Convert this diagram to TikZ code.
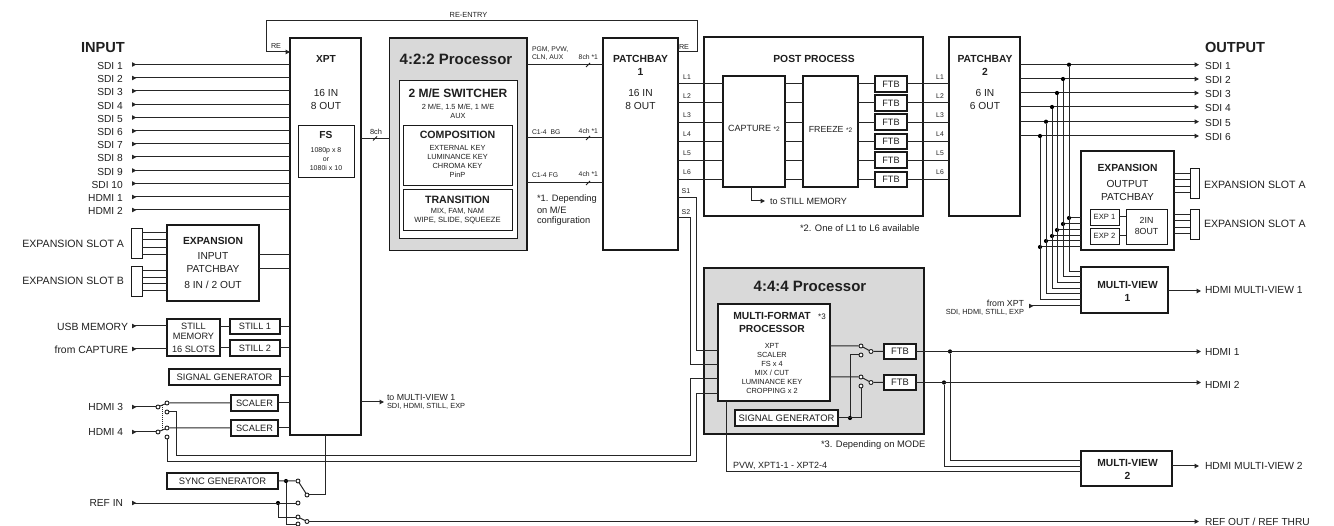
\documentclass[tikz,border=0pt]{standalone}
\usepackage{fontspec}
\setmainfont{Liberation Sans}
\usetikzlibrary{arrows.meta,calc}
\newcommand\fs[1]{\fontsize{#1}{#1}\selectfont}
\newcounter{tn}
\newcommand\T[5]{\stepcounter{tn}\node[anchor=#1,inner sep=0pt,outer sep=0pt,text=black!88,font=\fs{#2}] (t\arabic{tn}) at (#3,{#4+0.36*#2}) {#5};}
\newcommand\B[1]{\textbf{#1}}
\newcommand\bx[7]{\node[rectangle,draw=black!90,fill=white,inner sep=0pt,outer sep=0pt,align=center,text=black!88,minimum width={(#4-#2)*1pt},minimum height={(#5-#3)*1pt},#6] (#1) at ({(#2+#4)/2},{(#3+#5)/2}) {#7};}
\tikzset{
  thickbox/.style={line width=1.8pt},
  midbox/.style={line width=1.2pt},
  thinbox/.style={line width=0.9pt},
  greybox/.style={line width=1.8pt,fill=black!15},
  wire/.style={line width=1pt,draw=black!85},
  outw/.style={wire,-{Triangle[length=4.4pt,width=4.4pt]}},
  inw/.style={wire,{Triangle[reversed,length=4.4pt,width=4.4pt]}-},
  jd/.style={circle,fill=black,inner sep=0pt,minimum size=4.2pt},
  sw/.style={circle,draw=black!88,line width=0.9pt,fill=white,inner sep=0pt,minimum size=4pt},
  hatch/.style={line width=0.9pt,draw=black!88},
  connblock/.style={line width=0.9pt}
}
\begin{document}
\begin{tikzpicture}[x=1pt,y=-1pt]
\useasboundingbox (0,0) rectangle (1334,526);
% ---------- boxes
\bx{xpt}{290}{38}{361}{435}{thickbox}{}
\bx{fsb}{298}{125}{354}{177}{thinbox}{}
\bx{p422}{389.5}{38}{527}{250.5}{greybox}{}
\bx{sw2}{399}{80}{517}{238}{thinbox}{}
\bx{comp}{403}{125}{512}{185}{thinbox}{}
\bx{trans}{403}{189}{512}{230}{thinbox}{}
\bx{pb1}{603}{38}{678}{250}{midbox}{}
\bx{post}{704}{37}{923}{216}{thickbox}{}
\bx{cap}{723}{76}{785}{187}{midbox}{}
\bx{frz}{803}{76}{858}{187}{midbox}{}
\bx{pb2}{949}{37}{1020}{216}{thickbox}{}
\bx{expo}{1081}{151}{1174}{250}{thickbox}{}
\bx{exp1}{1090}{209}{1119}{225}{thinbox}{{\fs{7.6}EXP 1}}
\bx{exp2}{1090}{228}{1119}{244}{thinbox}{{\fs{7.6}EXP 2}}
\bx{twoin}{1126}{209}{1167}{244}{thinbox}{}
\bx{slotO1}{1190}{168}{1199}{198}{connblock}{}
\bx{slotO2}{1190}{209}{1199}{239}{connblock}{}
\bx{mv1}{1081}{267}{1168}{313}{thickbox}{}
\bx{mv2}{1081}{451}{1172}{486}{thickbox}{}
\bx{p444}{704}{268}{924}{434}{greybox}{}
\bx{mfp}{718}{304}{830}{401}{midbox}{}
\bx{sg2}{735}{410}{838}{426}{midbox}{{\fs{9.4}SIGNAL GENERATOR}}
\bx{ftbA}{884}{344}{916}{359}{thickbox}{{\fs{9.4}FTB}}
\bx{ftbB}{884}{375}{916}{390}{thickbox}{{\fs{9.4}FTB}}
\bx{expi}{167}{225}{259}{301}{thickbox}{}
\bx{slotA}{131}{228}{142}{258}{connblock}{}
\bx{slotB}{131}{266}{142}{296}{connblock}{}
\bx{still}{167}{319}{220}{356}{thickbox}{}
\bx{stA}{230}{319}{280}{334}{thickbox}{{\fs{9.2}STILL 1}}
\bx{stB}{230}{340}{280}{356}{thickbox}{{\fs{9.2}STILL 2}}
\bx{sg1}{169}{369}{280}{385}{thickbox}{{\fs{9.4}SIGNAL GENERATOR}}
\bx{sc1}{231}{395}{278}{411}{thickbox}{{\fs{9.2}SCALER}}
\bx{sc2}{231}{420}{278}{436}{thickbox}{{\fs{9.2}SCALER}}
\bx{sync}{167}{473}{278}{489}{thickbox}{{\fs{9.4}SYNC GENERATOR}}
% ---------- input column
\T{base west}{14.6}{81}{47}{\B{INPUT}}
\foreach \y/\t [count=\i] in {64.5/SDI 1,78/SDI 2,91/SDI 3,104.5/SDI 4,117.5/SDI 5,131/SDI 6,144/SDI 7,157/SDI 8,170.5/SDI 9,183.5/SDI 10,197/HDMI 1,210/HDMI 2}{
  \node[anchor=base east,inner sep=0pt,text=black!88,font=\fs{10.2}] (inl\i) at (123,{\y+1+3.67}) {\t};
  \coordinate (ina\i) at (132,\y);
  \draw[inw] (ina\i) -- (xpt.west |- ina\i);
}
% re-entry
\coordinate (reA) at (266,21);
\coordinate (reB) at (697,21);
\draw[outw] (pb1.east |- 0,52) -| (reB) -- (reA) |- (xpt.west |- 0,52);
\T{base}{7.2}{276}{46}{RE}
\T{base}{7.2}{684}{47}{RE}
\T{base}{7.4}{468.5}{15}{RE-ENTRY}
% XPT text
\T{base}{10.2}{326}{59}{\B{XPT}}
\T{base}{10.2}{326}{93}{16 IN}
\T{base}{10.2}{326}{106}{8 OUT}
\T{base}{10.2}{326}{135}{\B{FS}}
\T{base}{7}{326}{150}{1080p x 8}
\T{base}{7}{326}{159}{or}
\T{base}{7}{326}{168}{1080i x 10}
\draw[wire] (xpt.east |- 0,138.5) -- (p422.west |- 0,138.5);
\coordinate (tkA) at (375,138.5);
\draw[hatch] ($(tkA)+(-2,2)$) -- ($(tkA)+(2,-2)$);
\T{base}{7.4}{376}{131.5}{8ch}
% 4:2:2
\T{base}{15}{456}{59}{\B{4:2:2 Processor}}
\T{base}{12}{458}{93}{\B{2 M/E SWITCHER}}
\T{base}{7.4}{458}{107}{2 M/E, 1.5 M/E, 1 M/E}
\T{base}{7.4}{458}{116}{AUX}
\T{base}{10.6}{457.5}{135}{\B{COMPOSITION}}
\T{base}{7.4}{457.5}{148}{EXTERNAL KEY}
\T{base}{7.4}{457.5}{157}{LUMINANCE KEY}
\T{base}{7.4}{457.5}{166}{CHROMA KEY}
\T{base}{7.4}{457.5}{175}{PinP}
\T{base}{10.6}{457.5}{200}{\B{TRANSITION}}
\T{base}{7.4}{457.5}{211}{MIX, FAM, NAM}
\T{base}{7.6}{457.5}{220}{WIPE, SLIDE, SQUEEZE}
\foreach \y in {65,138,183}{
  \draw[wire] (p422.east |- 0,\y) -- (pb1.west |- 0,\y);
  \coordinate (tk) at (588,\y);
  \draw[hatch] ($(tk)+(-2,2)$) -- ($(tk)+(2,-2)$);
}
\T{base west}{6.8}{532}{49}{PGM, PVW,}
\T{base west}{6.8}{532}{57}{CLN, AUX}
\T{base east}{6.8}{598}{57}{8ch *1}
\T{base west}{6.8}{532}{132}{C1-4 \ BG}
\T{base east}{6.8}{598}{131}{4ch *1}
\T{base west}{6.8}{532}{175}{C1-4 FG}
\T{base east}{6.8}{598}{174}{4ch *1}
\T{base west}{9.3}{537}{198.5}{*1. Depending}
\T{base west}{9.3}{537}{210}{on M/E}
\T{base west}{9.3}{537}{220}{configuration}
% Patchbay 1
\T{base}{10.3}{640.5}{59}{\B{PATCHBAY}}
\T{base}{10.3}{640.5}{72}{\B{1}}
\T{base}{10.2}{640.5}{93}{16 IN}
\T{base}{10.2}{640.5}{106}{8 OUT}
% Post process
\T{base}{10.3}{814}{59}{\B{POST PROCESS}}
\T{base}{9}{754}{128}{CAPTURE {\fs{6.5}*2}}
\T{base}{8.8}{830.5}{129}{FREEZE {\fs{6.5}*2}}
\T{base}{10.3}{985}{59}{\B{PATCHBAY}}
\T{base}{10.3}{985}{72}{\B{2}}
\T{base}{10.2}{985}{93}{6 IN}
\T{base}{10.2}{985}{106}{6 OUT}
\foreach \n/\y/\ya/\yb in {1/84/76/92,2/103/95/111,3/122.3/114/130,4/141.5/134/149,5/160.3/152/168,6/179.5/172/187}{
  \bx{ftb\n}{875}{\ya}{907}{\yb}{midbox}{{\fs{9.2}FTB}}
  \draw[wire] (pb1.east |- 0,\y) -- (cap.west |- 0,\y);
  \draw[wire] (cap.east |- 0,\y) -- (frz.west |- 0,\y);
  \draw[wire] (frz.east |- 0,\y) -- (ftb\n.west |- 0,\y);
  \draw[wire] (ftb\n.east |- 0,\y) -- (pb2.west |- 0,\y);
  \node[anchor=base,inner sep=0pt,text=black!88,font=\fs{6.8}] (la\n) at (687,{\y-7+2.4}) {L\n};
  \node[anchor=base,inner sep=0pt,text=black!88,font=\fs{6.8}] (lb\n) at (940,{\y-7+2.4}) {L\n};
}
\coordinate (toS) at (765,201);
\draw[outw] (751,0 |- cap.south) |- (toS);
\T{base west}{9}{770}{201}{to STILL MEMORY}
\T{base west}{9.4}{800}{228}{*2. One of L1 to L6 available}
\T{base}{7}{686}{191}{S1}
\T{base}{7}{686}{212}{S2}
% S1 S2
\draw[wire] (pb1.east |- 0,198) -| (696,351) -- (mfp.west |- 0,351);
\draw[wire] (pb1.east |- 0,217.5) -| (690.5,365) -- (mfp.west |- 0,365);
% 4:4:4
\T{base}{15}{810}{286}{\B{4:4:4 Processor}}
\T{base}{10.3}{772}{316}{\B{MULTI-FORMAT}}
\T{base}{8}{822}{317}{*3}
\T{base}{10.3}{772}{329}{\B{PROCESSOR}}
\T{base}{7.4}{772}{346}{XPT}
\T{base}{7.4}{772}{355}{SCALER}
\T{base}{7.4}{772}{364}{FS x 4}
\T{base}{7.4}{772}{373}{MIX / CUT}
\T{base}{7.4}{772}{382}{LUMINANCE KEY}
\T{base}{7.4}{772}{391}{CROPPING x 2}
\T{base west}{9.4}{821}{444}{*3. Depending on MODE}
\T{base west}{9}{733}{465}{PVW, XPT1-1 - XPT2-4}
\node[sw] (maa) at (861,346) {};
\node[sw] (mab) at (861,355) {};
\node[sw] (mac) at (871,351.5) {};
\node[sw] (mba) at (861,377) {};
\node[sw] (mbb) at (861,386) {};
\node[sw] (mbc) at (871,382.5) {};
\draw[wire] (mfp.east |- maa) -- (maa) -- (mac) -- (ftbA.west |- mac);
\draw[wire] (mfp.east |- mba) -- (mba) -- (mbc) -- (ftbB.west |- mbc);
\coordinate (sgj) at (850,418);
\node[jd] (sgd) at (sgj) {};
\draw[wire] (sg2.east |- sgj) -| (mbb);
\draw[wire] (sgd) |- (mab);
% HDMI outs
\node[jd] (hd1) at (950,351.5) {};
\node[jd] (hd2) at (944,382.5) {};
\coordinate (ho1) at (1201,351.5);
\coordinate (ho2) at (1201,382.5);
\draw[outw] (ftbA.east |- ho1) -- (ho1);
\draw[outw] (ftbB.east |- ho2) -- (ho2);
\draw[wire] (hd1) |- (mv2.west |- 0,461);
\draw[wire] (hd2) |- (mv2.west |- 0,467);
\draw[wire] (726,0 |- mfp.south) |- (mv2.west |- 0,472);
\T{base west}{10.2}{1205}{352}{HDMI 1}
\T{base west}{10.2}{1205}{385}{HDMI 2}
% Output column
\T{base west}{14.6}{1205}{47}{\B{OUTPUT}}
\foreach \n/\y/\x/\dy/\my in {1/64.7/1069/218/272,2/79/1063/224/277,3/93/1057/230/283,4/107/1052/236/289,5/121.7/1046/241/294,6/136/1040/247/300}{
  \coordinate (ou\n) at (1199,\y);
  \draw[outw] (pb2.east |- ou\n) -- (ou\n);
  \node[anchor=base west,inner sep=0pt,text=black!88,font=\fs{10.2}] (oul\n) at (1205,{\y+1.3+3.67}) {SDI \n};
  \node[jd] (da\n) at (\x,\y) {};
  \node[jd] (db\n) at (\x,\dy) {};
  \draw[wire] (da\n) |- (mv1.west |- 0,\my);
  \draw[wire] (db\n) -- (expo.west |- db\n);
}
\T{base}{10.3}{1127.5}{168}{\B{EXPANSION}}
\T{base}{10.2}{1127.5}{184}{OUTPUT}
\T{base}{10.2}{1127.5}{197}{PATCHBAY}
\T{base}{8.8}{1146.5}{220}{2IN}
\T{base}{8.8}{1146.5}{231}{8OUT}
\draw[wire] (exp1.east) -- (twoin.west |- exp1.east);
\draw[wire] (exp2.east) -- (twoin.west |- exp2.east);
\foreach \y in {174,180,187,193}{\draw[wire] (expo.east |- 0,\y) -- (slotO1.west |- 0,\y);}
\foreach \y in {215,221,228,234}{\draw[wire] (expo.east |- 0,\y) -- (slotO2.west |- 0,\y);}
\T{base west}{10.6}{1204}{185}{EXPANSION SLOT A}
\T{base west}{10.6}{1204}{224}{EXPANSION SLOT A}
\T{base}{10.3}{1127.5}{285}{\B{MULTI-VIEW}}
\T{base}{10.3}{1127.5}{298}{\B{1}}
\coordinate (mvi) at (1029,306);
\draw[inw] (mvi) -- (mv1.west |- mvi);
\T{base east}{8.8}{1024}{303}{from XPT}
\T{base east}{7.4}{1024}{312}{SDI, HDMI, STILL, EXP}
\coordinate (mvo) at (1201,291);
\draw[outw] (mv1.east |- mvo) -- (mvo);
\T{base west}{10.3}{1205}{290}{HDMI MULTI-VIEW 1}
\T{base}{10.3}{1127.5}{463}{\B{MULTI-VIEW}}
\T{base}{10.3}{1127.5}{476}{\B{2}}
\coordinate (mvt) at (1199,466);
\draw[outw] (mv2.east |- mvt) -- (mvt);
\T{base west}{10.3}{1205}{466}{HDMI MULTI-VIEW 2}
% Expansion input
\T{base east}{10.6}{124}{244}{EXPANSION SLOT A}
\T{base east}{10.6}{124}{281}{EXPANSION SLOT B}
\foreach \y in {233,240,248,255}{\draw[wire] (slotA.east |- 0,\y) -- (expi.west |- 0,\y);}
\foreach \y in {271,278,284,291}{\draw[wire] (slotB.east |- 0,\y) -- (expi.west |- 0,\y);}
\T{base}{10.3}{213}{241}{\B{EXPANSION}}
\T{base}{10.2}{213}{256}{INPUT}
\T{base}{10.2}{213}{269}{PATCHBAY}
\T{base}{10.2}{213}{285}{8 IN / 2 OUT}
\draw[wire] (expi.east |- 0,255) -- (xpt.west |- 0,255);
\draw[wire] (expi.east |- 0,269) -- (xpt.west |- 0,269);
% Still memory
\T{base east}{10.4}{128}{327}{USB MEMORY}
\T{base east}{10.4}{128}{350}{from CAPTURE}
\coordinate (ua) at (132,326);
\coordinate (ub) at (132,349);
\draw[inw] (ua) -- (still.west |- ua);
\draw[inw] (ub) -- (still.west |- ub);
\T{base}{9.2}{193.5}{326}{STILL}
\T{base}{9.2}{193.5}{336}{MEMORY}
\T{base}{9.2}{193.5}{349}{16 SLOTS}
\draw[wire] (still.east |- stA.west) -- (stA.west);
\draw[wire] (still.east |- stB.west) -- (stB.west);
\draw[wire] (stA.east) -- (xpt.west |- stA.east);
\draw[wire] (stB.east) -- (xpt.west |- stB.east);
\draw[wire] (sg1.east) -- (xpt.west |- sg1.east);
% HDMI 3/4
\T{base east}{10.2}{123}{407}{HDMI 3}
\T{base east}{10.2}{123}{432}{HDMI 4}
\coordinate (ha) at (132,407);
\coordinate (hb) at (132,432);
\node[sw] (hca) at (158,407) {};
\node[sw] (hcb) at (167,403) {};
\node[sw] (hcc) at (167,412) {};
\node[sw] (hda) at (158,432) {};
\node[sw] (hdb) at (167,428) {};
\node[sw] (hdc) at (167,437) {};
\draw[inw] (ha) -- (hca);
\draw[inw] (hb) -- (hda);
\draw[wire] (hca) -- (hcb) -- (sc1.west);
\draw[wire] (hda) -- (hdb) -- (sc2.west);
\draw[wire,densely dotted] ($(hca)!.5!(hcb)$) -- ($(hda)!.5!(hdb)$);
\draw[wire] (sc1.east) -- (xpt.west |- sc1.east);
\draw[wire] (sc2.east) -- (xpt.west |- sc2.east);
\draw[wire] (hcc) -- (176,412) -- (176,456) -- (690.5,456) -- (690.5,379) -- (mfp.west |- 0,379);
\draw[wire] (hdc) -- (167,461.5) -- (696,461.5) -- (696,394) -- (mfp.west |- 0,394);
% to multi-view
\coordinate (tmv) at (384,402);
\draw[outw] (xpt.east |- tmv) -- (tmv);
\T{base west}{8.8}{387}{397}{to MULTI-VIEW 1}
\T{base west}{7.4}{387}{406}{SDI, HDMI, STILL, EXP}
% Sync / Ref
\T{base east}{10.2}{123}{503}{REF IN}
\node[jd] (jsy) at (286,481) {};
\node[jd] (jrf) at (278,503) {};
\node[sw] (sa) at (298,481) {};
\node[sw] (sb) at (298,503) {};
\node[sw] (sc) at (307,495) {};
\node[sw] (sd) at (298,517) {};
\node[sw] (se) at (298,524) {};
\node[sw] (sf) at (307,521.5) {};
\coordinate (ri) at (132,503);
\coordinate (ro) at (1199,521.5);
\draw[wire] (sync.east |- sa) -- (sa) -- (sc);
\draw[wire] (sc) -| (xpt.south);
\draw[inw] (ri) -- (sb);
\draw[wire] (jrf) |- (sd);
\draw[wire] (jsy) |- (se);
\draw[wire] (sd) -- (sf);
\draw[outw] (sf) -- (ro);
\T{base west}{10.2}{1205}{522}{REF OUT / REF THRU}
\end{tikzpicture}
\end{document}
